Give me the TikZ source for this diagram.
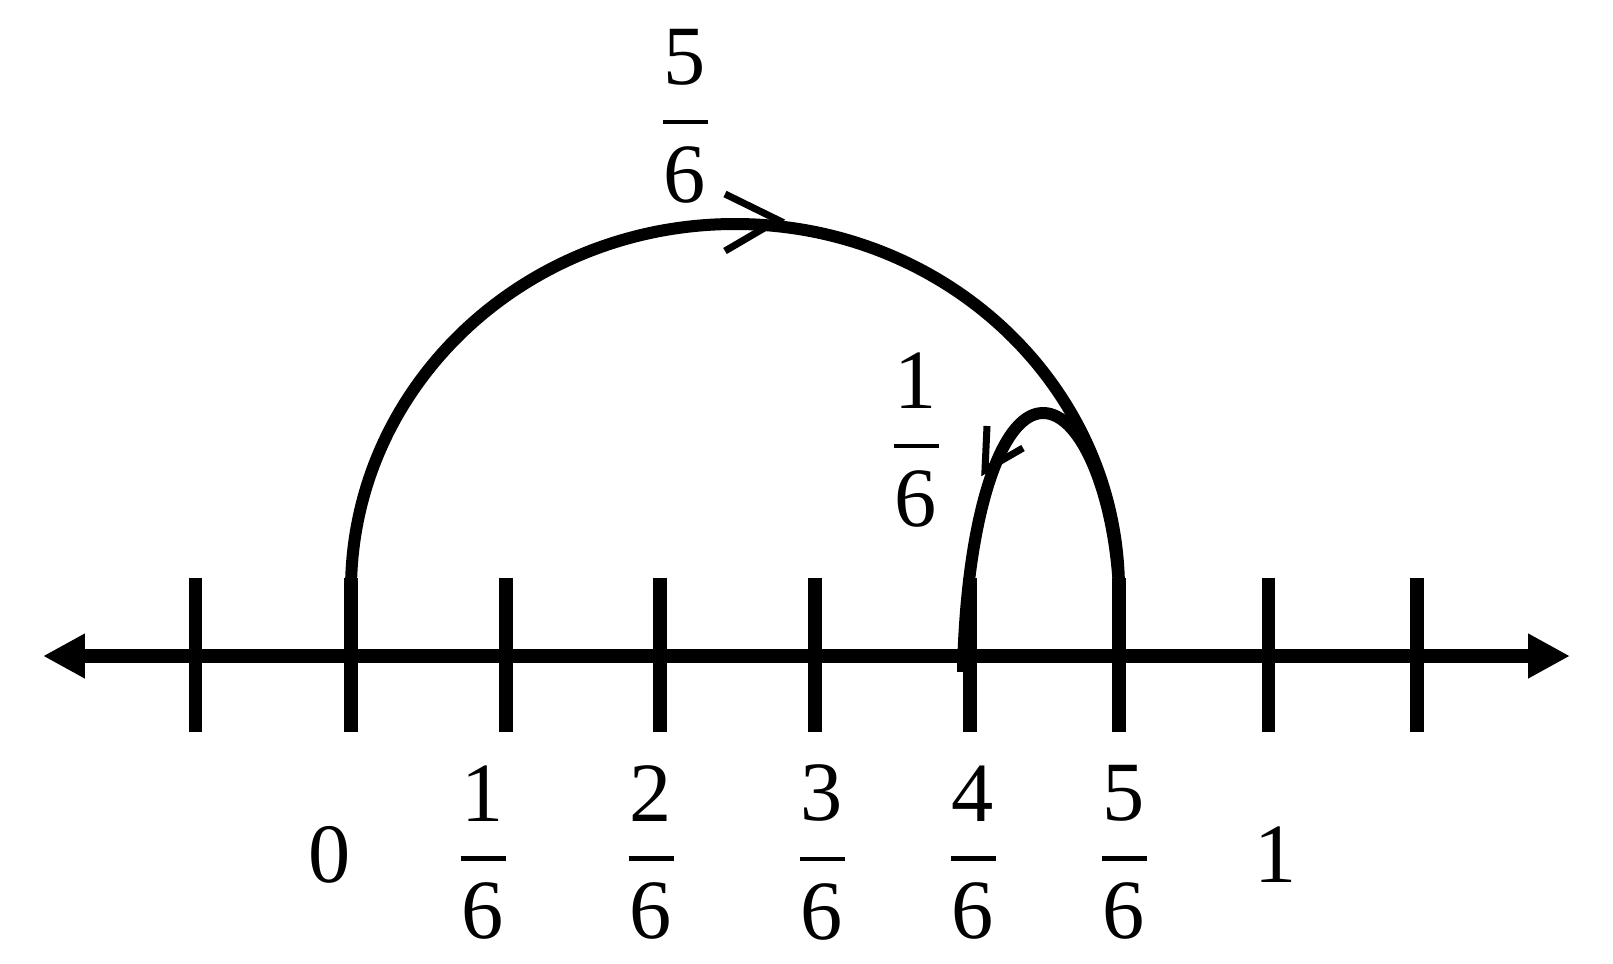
\documentclass[tikz,border=0pt]{standalone}
\usepackage{fontspec}
\setmainfont{Liberation Serif}
\usepackage{tikz}
\usetikzlibrary{arrows.meta}
\tikzset{
  numline/.style={{Triangle[length=0.42cm,width=0.42cm]}-{Triangle[length=0.42cm,width=0.42cm]}, line width=0.135cm},
  tickmark/.style={line width=0.137cm},
  hop/.style={line width=0.12cm},
  chev/.style={line width=0.07cm},
  lab/.style={inner sep=0pt, font=\fontsize{24}{28}\selectfont}
}
% stacked fraction: numerator, bar, denominator
\newcommand{\fr}[2]{\vbox{\offinterlineskip\halign{\hfil##\hfil\cr #1\cr\noalign{\kern0.35cm}\rule{0.45cm}{0.045cm}\cr\noalign{\kern0.22cm}#2\cr}}}

\begin{document}
\begin{tikzpicture}
  \useasboundingbox (0,0) rectangle (16.13,9.63);
  % number line
  \coordinate (left) at (0.43,3.07);
  \coordinate (right) at (15.70,3.07);
  \draw[numline] (left) -- (right);
  % ticks
  \foreach \x in {1.955,3.51,5.06,6.60,8.15,9.70,11.19,12.685,14.17}
    \draw[tickmark] (\x,2.31) -- (\x,3.85);

  % labels under the line
  \node[lab] (l0) at (3.30,1.08) {0};
  \node[lab] (l1) at (4.83,1.105) {\fr{1}{6}};
  \node[lab] (l2) at (6.51,1.105) {\fr{2}{6}};
  \node[lab] (l3) at (8.22,1.105) {\fr{3}{6}};
  \node[lab] (l4) at (9.73,1.105) {\fr{4}{6}};
  \node[lab] (l5) at (11.24,1.105) {\fr{5}{6}};
  \node[lab] (l6) at (12.76,1.08) {1};

  % jumps
  \coordinate (zero) at (3.51,3.73);
  \coordinate (five) at (11.19,3.73);
  \coordinate (four) at (9.63,2.91);
  \draw[hop] (zero) arc[start angle=180, end angle=0, x radius=3.84cm, y radius=3.66cm];
  \draw[hop] (five) .. controls (11.15,4.63) and (10.83,5.50) .. (10.43,5.50)
    .. controls (10.00,5.50) and (9.66,4.43) .. (four);
  \draw[chev] (7.25,7.69) -- (7.78,7.43) -- (7.25,7.12);
  \draw[chev] (9.87,5.37) -- (9.85,4.93) -- (10.23,5.15);

  % jump labels
  \node[lab] (big) at (6.85,8.47) {\fr{5}{6}};
  \node[lab] (small) at (9.16,5.23) {\fr{1}{6}};
\end{tikzpicture}
\end{document}
